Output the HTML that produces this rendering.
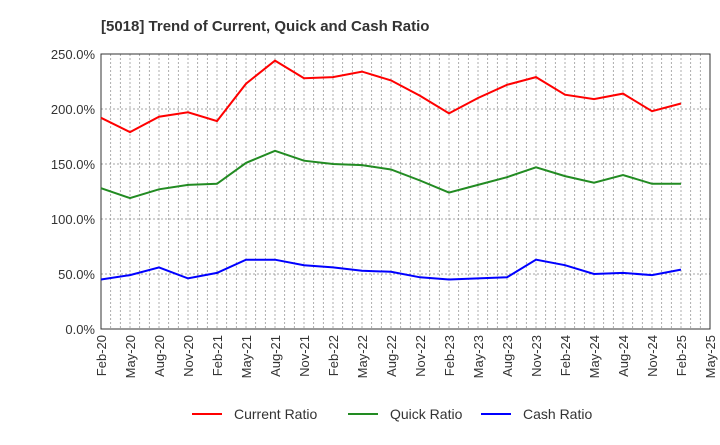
<!DOCTYPE html>
<html><head><meta charset="utf-8"><style>
body{margin:0;background:#fff;font-family:"Liberation Sans",sans-serif;}
svg text{font-family:"Liberation Sans",sans-serif;}
</style></head><body>
<svg width="720" height="440" id="c">
<text x="101" y="31" font-size="15" font-weight="bold" fill="#333">[5018]  Trend of Current, Quick and Cash Ratio</text>
</svg>
<script>
const labels=["Feb-20","May-20","Aug-20","Nov-20","Feb-21","May-21","Aug-21","Nov-21","Feb-22","May-22","Aug-22","Nov-22","Feb-23","May-23","Aug-23","Nov-23","Feb-24","May-24","Aug-24","Nov-24","Feb-25","May-25"];
const currentRatio=[192,179,193,197,189,223,244,228,229,234,226,212,196,210,222,229,213,209,214,198,205];
const quickRatio=[128,119,127,131,132,151,162,153,150,149,145,135,124,131,138,147,139,133,140,132,132];
const cashRatio=[45,49,56,46,51,63,63,58,56,53,52,47,45,46,47,63,58,50,51,49,54];
const yTicks=[0,50,100,150,200,250];
const svg=document.getElementById('c');const NS='http://www.w3.org/2000/svg';
const L=101,R=710,T=54,B=329;
const x=i=>L+(R-L)*i/(labels.length-1);
const y=v=>B-(B-T)*v/250;
function mk(t,a){const e=document.createElementNS(NS,t);for(const k in a)e.setAttribute(k,a[k]);svg.appendChild(e);return e;}
for(let m=1;m<(labels.length-1)*3;m++){const xx=L+(R-L)*m/((labels.length-1)*3);
const g=mk('line',{x1:xx,x2:xx,y1:T,y2:B,stroke:'#999','stroke-dasharray':'2,2','stroke-width':0.8});

}
yTicks.forEach(v=>{if(v>0&&v<250){const g=mk('line',{x1:L,x2:R,y1:y(v),y2:y(v),stroke:'#888','stroke-dasharray':'2,2','stroke-width':0.8});

}
const t=mk('text',{x:L-6,y:y(v)+5,'font-size':13,'text-anchor':'end',fill:'#333'});t.textContent=v.toFixed(1)+'%';

});
const fr=mk('rect',{x:L,y:T,width:R-L,height:B-T,fill:'none',stroke:'#333','stroke-width':1});


labels.forEach((s,i)=>{const t=mk('text',{transform:`translate(${x(i)+5},${B+6}) rotate(-90)`,'font-size':13,'text-anchor':'end',fill:'#333'});t.textContent=s;

});
function series(d,c,n){const p=mk('polyline',{points:d.map((v,i)=>x(i)+','+y(v)).join(' '),fill:'none',stroke:c,'stroke-width':2});

}
series(currentRatio,'#f00','current-ratio-line');
series(quickRatio,'#228b22','quick-ratio-line');
series(cashRatio,'#00f','cash-ratio-line');
[["Current Ratio",'#f00',192],["Quick Ratio",'#228b22',348],["Cash Ratio",'#00f',481]].forEach(([s,c,lx])=>{
const g=mk('g',{});

const l=document.createElementNS(NS,'line');l.setAttribute('x1',lx);l.setAttribute('x2',lx+30);l.setAttribute('y1',414);l.setAttribute('y2',414);l.setAttribute('stroke',c);l.setAttribute('stroke-width',2);g.appendChild(l);
const t=document.createElementNS(NS,'text');t.setAttribute('x',lx+42);t.setAttribute('y',419);t.setAttribute('font-size',14);t.setAttribute('fill','#333');t.textContent=s;g.appendChild(t);});
</script>
</body></html>
